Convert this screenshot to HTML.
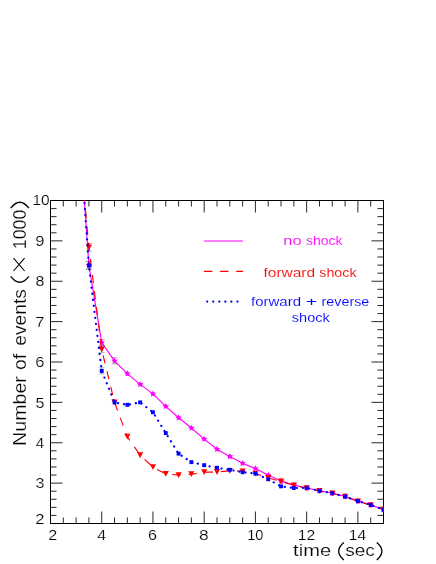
<!DOCTYPE html>
<html><head><meta charset="utf-8"><title>chart</title>
<style>
html,body{margin:0;padding:0;background:#fff;}
svg{display:block;will-change:transform;}
text{font-family:"Liberation Sans",sans-serif;}
</style></head><body>
<svg width="436" height="564" viewBox="0 0 436 564">
<rect x="0" y="0" width="436" height="564" fill="#fff"/>
<defs><clipPath id="c"><rect x="50.5" y="200.5" width="333.0" height="323.0"/></clipPath></defs>

<rect x="50.5" y="200.5" width="333.0" height="323.0" stroke="#000" stroke-width="1" fill="none"/>
<g stroke="#000" stroke-width="0.85" fill="none">
<path d="M63.31 200.50 v6.0 M63.31 523.50 v-6.0"/>
<path d="M76.12 200.50 v6.0 M76.12 523.50 v-6.0"/>
<path d="M88.92 200.50 v6.0 M88.92 523.50 v-6.0"/>
<path d="M101.73 200.50 v12.0 M101.73 523.50 v-12.0"/>
<path d="M114.54 200.50 v6.0 M114.54 523.50 v-6.0"/>
<path d="M127.35 200.50 v6.0 M127.35 523.50 v-6.0"/>
<path d="M140.15 200.50 v6.0 M140.15 523.50 v-6.0"/>
<path d="M152.96 200.50 v12.0 M152.96 523.50 v-12.0"/>
<path d="M165.77 200.50 v6.0 M165.77 523.50 v-6.0"/>
<path d="M178.58 200.50 v6.0 M178.58 523.50 v-6.0"/>
<path d="M191.38 200.50 v6.0 M191.38 523.50 v-6.0"/>
<path d="M204.19 200.50 v12.0 M204.19 523.50 v-12.0"/>
<path d="M217.00 200.50 v6.0 M217.00 523.50 v-6.0"/>
<path d="M229.81 200.50 v6.0 M229.81 523.50 v-6.0"/>
<path d="M242.62 200.50 v6.0 M242.62 523.50 v-6.0"/>
<path d="M255.42 200.50 v12.0 M255.42 523.50 v-12.0"/>
<path d="M268.23 200.50 v6.0 M268.23 523.50 v-6.0"/>
<path d="M281.04 200.50 v6.0 M281.04 523.50 v-6.0"/>
<path d="M293.85 200.50 v6.0 M293.85 523.50 v-6.0"/>
<path d="M306.65 200.50 v12.0 M306.65 523.50 v-12.0"/>
<path d="M319.46 200.50 v6.0 M319.46 523.50 v-6.0"/>
<path d="M332.27 200.50 v6.0 M332.27 523.50 v-6.0"/>
<path d="M345.08 200.50 v6.0 M345.08 523.50 v-6.0"/>
<path d="M357.88 200.50 v12.0 M357.88 523.50 v-12.0"/>
<path d="M370.69 200.50 v6.0 M370.69 523.50 v-6.0"/>
<path d="M50.50 515.42 h6.0 M383.50 515.42 h-6.0"/>
<path d="M50.50 507.35 h6.0 M383.50 507.35 h-6.0"/>
<path d="M50.50 499.27 h6.0 M383.50 499.27 h-6.0"/>
<path d="M50.50 491.20 h6.0 M383.50 491.20 h-6.0"/>
<path d="M50.50 483.12 h12.0 M383.50 483.12 h-12.0"/>
<path d="M50.50 475.05 h6.0 M383.50 475.05 h-6.0"/>
<path d="M50.50 466.97 h6.0 M383.50 466.97 h-6.0"/>
<path d="M50.50 458.90 h6.0 M383.50 458.90 h-6.0"/>
<path d="M50.50 450.82 h6.0 M383.50 450.82 h-6.0"/>
<path d="M50.50 442.75 h12.0 M383.50 442.75 h-12.0"/>
<path d="M50.50 434.67 h6.0 M383.50 434.67 h-6.0"/>
<path d="M50.50 426.60 h6.0 M383.50 426.60 h-6.0"/>
<path d="M50.50 418.52 h6.0 M383.50 418.52 h-6.0"/>
<path d="M50.50 410.45 h6.0 M383.50 410.45 h-6.0"/>
<path d="M50.50 402.37 h12.0 M383.50 402.37 h-12.0"/>
<path d="M50.50 394.30 h6.0 M383.50 394.30 h-6.0"/>
<path d="M50.50 386.22 h6.0 M383.50 386.22 h-6.0"/>
<path d="M50.50 378.15 h6.0 M383.50 378.15 h-6.0"/>
<path d="M50.50 370.07 h6.0 M383.50 370.07 h-6.0"/>
<path d="M50.50 362.00 h12.0 M383.50 362.00 h-12.0"/>
<path d="M50.50 353.92 h6.0 M383.50 353.92 h-6.0"/>
<path d="M50.50 345.85 h6.0 M383.50 345.85 h-6.0"/>
<path d="M50.50 337.77 h6.0 M383.50 337.77 h-6.0"/>
<path d="M50.50 329.70 h6.0 M383.50 329.70 h-6.0"/>
<path d="M50.50 321.62 h12.0 M383.50 321.62 h-12.0"/>
<path d="M50.50 313.55 h6.0 M383.50 313.55 h-6.0"/>
<path d="M50.50 305.47 h6.0 M383.50 305.47 h-6.0"/>
<path d="M50.50 297.40 h6.0 M383.50 297.40 h-6.0"/>
<path d="M50.50 289.32 h6.0 M383.50 289.32 h-6.0"/>
<path d="M50.50 281.25 h12.0 M383.50 281.25 h-12.0"/>
<path d="M50.50 273.17 h6.0 M383.50 273.17 h-6.0"/>
<path d="M50.50 265.10 h6.0 M383.50 265.10 h-6.0"/>
<path d="M50.50 257.02 h6.0 M383.50 257.02 h-6.0"/>
<path d="M50.50 248.95 h6.0 M383.50 248.95 h-6.0"/>
<path d="M50.50 240.87 h12.0 M383.50 240.87 h-12.0"/>
<path d="M50.50 232.80 h6.0 M383.50 232.80 h-6.0"/>
<path d="M50.50 224.72 h6.0 M383.50 224.72 h-6.0"/>
<path d="M50.50 216.65 h6.0 M383.50 216.65 h-6.0"/>
<path d="M50.50 208.58 h6.0 M383.50 208.58 h-6.0"/>
</g>
<text transform="translate(48.14,540.40) scale(1.081,1)" font-size="15" fill="#000" stroke="#fff" stroke-width="0.2">2</text>
<text transform="translate(97.15,540.40) scale(1.060,1)" font-size="15" fill="#000" stroke="#fff" stroke-width="0.2">4</text>
<text transform="translate(148.04,540.40) scale(1.081,1)" font-size="15" fill="#000" stroke="#fff" stroke-width="0.2">6</text>
<text transform="translate(199.06,540.40) scale(1.156,1)" font-size="15" fill="#000" stroke="#fff" stroke-width="0.2">8</text>
<text transform="translate(247.19,540.40) scale(0.969,1)" font-size="15" fill="#000" stroke="#fff" stroke-width="0.2">10</text>
<text transform="translate(297.82,540.40) scale(1.044,1)" font-size="15" fill="#000" stroke="#fff" stroke-width="0.2">12</text>
<text transform="translate(348.82,540.40) scale(1.041,1)" font-size="15" fill="#000" stroke="#fff" stroke-width="0.2">14</text>
<text transform="translate(35.32,524.30) scale(1.109,1)" font-size="15" fill="#000" stroke="#fff" stroke-width="0.2">2</text>
<text transform="translate(35.60,488.32) scale(1.074,1)" font-size="15" fill="#000" stroke="#fff" stroke-width="0.2">3</text>
<text transform="translate(35.86,447.95) scale(1.008,1)" font-size="15" fill="#000" stroke="#fff" stroke-width="0.2">4</text>
<text transform="translate(35.60,407.57) scale(1.074,1)" font-size="15" fill="#000" stroke="#fff" stroke-width="0.2">5</text>
<text transform="translate(35.32,367.20) scale(1.109,1)" font-size="15" fill="#000" stroke="#fff" stroke-width="0.2">6</text>
<text transform="translate(35.32,326.82) scale(1.109,1)" font-size="15" fill="#000" stroke="#fff" stroke-width="0.2">7</text>
<text transform="translate(35.60,286.45) scale(1.074,1)" font-size="15" fill="#000" stroke="#fff" stroke-width="0.2">8</text>
<text transform="translate(35.32,246.07) scale(1.109,1)" font-size="15" fill="#000" stroke="#fff" stroke-width="0.2">9</text>
<text transform="translate(32.43,204.90) scale(1.034,1)" font-size="15" fill="#000" stroke="#fff" stroke-width="0.2">10</text>
<text transform="translate(293.10,555.70) scale(1.166,1)" font-size="17.3" fill="#000" stroke="#fff" stroke-width="0.2">time</text>
<path d="M343.8 542.5 Q333.6 551.2 343.8 559.9 M376.8 542.5 Q387 551.2 376.8 559.9" stroke="#000" stroke-width="1.3" fill="none"/>
<text transform="translate(345.20,555.70) scale(1.103,1)" font-size="17.3" fill="#000" stroke="#fff" stroke-width="0.2">sec</text>
<text transform="translate(26,0) rotate(-90) translate(-445.94,0.00) scale(1.117,1)" font-size="17.6" fill="#000" stroke="#fff" stroke-width="0.2">Number</text>
<text transform="translate(26,0) rotate(-90) translate(-369.90,0.00) scale(1.099,1)" font-size="17.6" fill="#000" stroke="#fff" stroke-width="0.2">of</text>
<text transform="translate(26,0) rotate(-90) translate(-345.70,0.00) scale(1.092,1)" font-size="17.6" fill="#000" stroke="#fff" stroke-width="0.2">events</text>
<path transform="translate(26,0) rotate(-90)" d="M-276.3 -15.3 Q-288.2 -6.2 -276.3 2.9 M-208.2 -15.3 Q-196.3 -6.2 -208.2 2.9" stroke="#000" stroke-width="1.3" fill="none"/>
<path transform="translate(26,0) rotate(-90)" d="M-271.0 -1.4 L-258.1 -12.5 M-271.0 -12.5 L-258.1 -1.4" stroke="#000" stroke-width="1.1" fill="none"/>
<text transform="translate(26,0) rotate(-90) translate(-249.21,0.00) scale(0.990,1)" font-size="18" fill="#000" stroke="#fff" stroke-width="0.2">1000</text>
<g clip-path="url(#c)">
<path d="M76.1 83.4 L88.9 265.1 L101.7 342.6 L114.5 360.8 L127.3 373.7 L140.2 384.4 L153.0 393.9 L165.8 406.4 L178.6 417.7 L191.4 428.0 L204.2 439.1 L217.0 449.2 L229.8 456.5 L242.6 463.3 L255.4 468.6 L268.2 475.1 L281.0 480.9 L293.8 485.1 L306.7 488.0 L319.5 490.8 L332.3 493.2 L345.1 496.4 L357.9 501.1 L370.7 504.9 L383.5 509.7" fill="none" stroke="#f0f" stroke-width="1.15"/>
<path d="M88.92 261.40 V268.80 M85.92 261.40 h6 M85.92 268.80 h6 M101.73 339.37 V345.87 M98.73 339.37 h6 M98.73 345.87 h6 M114.54 357.65 V363.92 M111.54 357.65 h6 M111.54 363.92 h6" stroke="#000" stroke-width="0.3" fill="none"/>
<g fill="#f0f"><polygon points="88.92,261.70 89.92,263.72 92.16,264.05 90.54,265.63 90.92,267.85 88.92,266.80 86.92,267.85 87.31,265.63 85.69,264.05 87.92,263.72"/><polygon points="101.73,339.22 102.73,341.24 104.96,341.57 103.35,343.15 103.73,345.37 101.73,344.32 99.73,345.37 100.11,343.15 98.50,341.57 100.73,341.24"/><polygon points="114.54,357.39 115.54,359.41 117.77,359.74 116.16,361.31 116.54,363.54 114.54,362.49 112.54,363.54 112.92,361.31 111.30,359.74 113.54,359.41"/><polygon points="127.35,370.31 128.35,372.33 130.58,372.66 128.96,374.23 129.34,376.46 127.35,375.41 125.35,376.46 125.73,374.23 124.11,372.66 126.35,372.33"/><polygon points="140.15,381.01 141.15,383.03 143.39,383.36 141.77,384.93 142.15,387.16 140.15,386.11 138.16,387.16 138.54,384.93 136.92,383.36 139.15,383.03"/><polygon points="152.96,390.50 153.96,392.52 156.20,392.85 154.58,394.42 154.96,396.65 152.96,395.60 150.96,396.65 151.34,394.42 149.73,392.85 151.96,392.52"/><polygon points="165.77,403.01 166.77,405.04 169.00,405.36 167.39,406.94 167.77,409.16 165.77,408.11 163.77,409.16 164.15,406.94 162.54,405.36 164.77,405.04"/><polygon points="178.58,414.32 179.58,416.34 181.81,416.67 180.19,418.24 180.58,420.47 178.58,419.42 176.58,420.47 176.96,418.24 175.34,416.67 177.58,416.34"/><polygon points="191.38,424.61 192.38,426.64 194.62,426.96 193.00,428.54 193.38,430.76 191.38,429.71 189.39,430.76 189.77,428.54 188.15,426.96 190.39,426.64"/><polygon points="204.19,435.72 205.19,437.74 207.43,438.07 205.81,439.64 206.19,441.87 204.19,440.82 202.19,441.87 202.58,439.64 200.96,438.07 203.19,437.74"/><polygon points="217.00,445.81 218.00,447.83 220.23,448.16 218.62,449.74 219.00,451.96 217.00,450.91 215.00,451.96 215.38,449.74 213.77,448.16 216.00,447.83"/><polygon points="229.81,453.08 230.81,455.10 233.04,455.43 231.42,457.00 231.81,459.23 229.81,458.18 227.81,459.23 228.19,457.00 226.57,455.43 228.81,455.10"/><polygon points="242.62,459.94 243.61,461.97 245.85,462.29 244.23,463.87 244.61,466.09 242.62,465.04 240.62,466.09 241.00,463.87 239.38,462.29 241.62,461.97"/><polygon points="255.42,465.19 256.42,467.21 258.66,467.54 257.04,469.12 257.42,471.34 255.42,470.29 253.42,471.34 253.81,469.12 252.19,467.54 254.42,467.21"/><polygon points="268.23,471.65 269.23,473.67 271.46,474.00 269.85,475.58 270.23,477.80 268.23,476.75 266.23,477.80 266.61,475.58 265.00,474.00 267.23,473.67"/><polygon points="281.04,477.54 282.04,479.57 284.27,479.89 282.66,481.47 283.04,483.70 281.04,482.64 279.04,483.70 279.42,481.47 277.80,479.89 280.04,479.57"/><polygon points="293.85,481.74 294.85,483.77 297.08,484.09 295.46,485.67 295.84,487.89 293.85,486.84 291.85,487.89 292.23,485.67 290.61,484.09 292.85,483.77"/><polygon points="306.65,484.57 307.65,486.59 309.89,486.92 308.27,488.50 308.65,490.72 306.65,489.67 304.66,490.72 305.04,488.50 303.42,486.92 305.65,486.59"/><polygon points="319.46,487.40 320.46,489.42 322.70,489.75 321.08,491.32 321.46,493.55 319.46,492.50 317.46,493.55 317.84,491.32 316.23,489.75 318.46,489.42"/><polygon points="332.27,489.82 333.27,491.84 335.50,492.17 333.89,493.74 334.27,495.97 332.27,494.92 330.27,495.97 330.65,493.74 329.04,492.17 331.27,491.84"/><polygon points="345.08,493.05 346.08,495.07 348.31,495.40 346.69,496.97 347.08,499.20 345.08,498.15 343.08,499.20 343.46,496.97 341.84,495.40 344.08,495.07"/><polygon points="357.88,497.69 358.88,499.72 361.12,500.04 359.50,501.62 359.88,503.84 357.88,502.79 355.89,503.84 356.27,501.62 354.65,500.04 356.89,499.72"/><polygon points="370.69,501.53 371.69,503.55 373.93,503.88 372.31,505.45 372.69,507.68 370.69,506.63 368.69,507.68 369.08,505.45 367.46,503.88 369.69,503.55"/><polygon points="383.50,506.25 384.50,508.28 386.73,508.60 385.12,510.18 385.50,512.40 383.50,511.35 381.50,512.40 381.88,510.18 380.27,508.60 382.50,508.28"/></g>
<path d="M76.1 107.6 L88.9 247.3 L101.7 349.5 L114.5 402.4 L127.3 436.7 L140.2 455.3 L153.0 467.2 L165.8 473.9 L178.6 475.1 L191.4 474.2 L204.2 472.2 L217.0 472.0 L229.8 470.8 L242.6 471.4 L255.4 473.6 L268.2 477.9 L281.0 481.5 L293.8 485.3 L306.7 488.2 L319.5 491.0 L332.3 493.4 L345.1 496.7 L357.9 501.3 L370.7 505.1 L383.5 509.7" fill="none" stroke="#f00" stroke-width="1.15" stroke-dasharray="8.3 7.94" stroke-dashoffset="10.57"/>
<path d="M88.92 243.54 V251.13 M85.92 243.54 h6 M85.92 251.13 h6 M101.73 346.28 V352.69 M98.73 346.28 h6 M98.73 352.69 h6" stroke="#000" stroke-width="0.3" fill="none"/>
<g fill="#f00"><polygon points="85.82,244.44 92.02,244.44 88.92,250.24"/><polygon points="98.63,346.58 104.83,346.58 101.73,352.38"/><polygon points="111.44,399.48 117.64,399.48 114.54,405.27"/><polygon points="124.25,433.79 130.45,433.79 127.35,439.59"/><polygon points="137.05,452.37 143.25,452.37 140.15,458.17"/><polygon points="149.86,464.28 156.06,464.28 152.96,470.08"/><polygon points="162.67,471.02 168.87,471.02 165.77,476.82"/><polygon points="175.48,472.15 181.68,472.15 178.58,477.95"/><polygon points="188.28,471.26 194.48,471.26 191.38,477.06"/><polygon points="201.09,469.32 207.29,469.32 204.19,475.12"/><polygon points="213.90,469.12 220.10,469.12 217.00,474.92"/><polygon points="226.71,467.91 232.91,467.91 229.81,473.71"/><polygon points="239.52,468.52 245.72,468.52 242.62,474.32"/><polygon points="252.32,470.74 258.52,470.74 255.42,476.54"/><polygon points="265.13,474.98 271.33,474.98 268.23,480.78"/><polygon points="277.94,478.61 284.14,478.61 281.04,484.41"/><polygon points="290.75,482.45 296.95,482.45 293.85,488.25"/><polygon points="303.55,485.27 309.75,485.27 306.65,491.07"/><polygon points="316.36,488.10 322.56,488.10 319.46,493.90"/><polygon points="329.17,490.52 335.37,490.52 332.27,496.32"/><polygon points="341.98,493.75 348.18,493.75 345.08,499.55"/><polygon points="354.78,498.39 360.98,498.39 357.88,504.19"/><polygon points="367.59,502.23 373.79,502.23 370.69,508.03"/><polygon points="380.40,506.75 386.60,506.75 383.50,512.55"/></g>
<path d="M76.1 83.4 L88.9 265.5 L101.7 370.9 L114.5 402.4 L127.3 404.8 L140.2 402.4 L153.0 412.3 L165.8 433.1 L178.6 453.7 L191.4 462.1 L204.2 465.2 L217.0 467.8 L229.8 469.8 L242.6 472.2 L255.4 473.6 L268.2 479.3 L281.0 486.4 L293.8 488.0 L306.7 488.0 L319.5 490.8 L332.3 493.2 L345.1 496.7 L357.9 501.1 L370.7 504.9 L383.5 509.7" fill="none" stroke="#00f" stroke-width="2.2" stroke-dasharray="0.1 5.97" stroke-dashoffset="1.52" stroke-linecap="round"/>
<path d="M88.92 261.81 V269.20 M85.92 261.81 h6 M85.92 269.20 h6 M101.73 367.81 V373.95 M98.73 367.81 h6 M98.73 373.95 h6" stroke="#000" stroke-width="0.3" fill="none"/>
<g fill="#00f"><rect x="86.97" y="263.55" width="3.90" height="3.90"/><rect x="99.78" y="368.93" width="3.90" height="3.90"/><rect x="112.59" y="400.43" width="3.90" height="3.90"/><rect x="125.40" y="402.85" width="3.90" height="3.90"/><rect x="138.20" y="400.43" width="3.90" height="3.90"/><rect x="151.01" y="410.32" width="3.90" height="3.90"/><rect x="163.82" y="431.11" width="3.90" height="3.90"/><rect x="176.63" y="451.70" width="3.90" height="3.90"/><rect x="189.43" y="460.18" width="3.90" height="3.90"/><rect x="202.24" y="463.21" width="3.90" height="3.90"/><rect x="215.05" y="465.83" width="3.90" height="3.90"/><rect x="227.86" y="467.85" width="3.90" height="3.90"/><rect x="240.67" y="470.27" width="3.90" height="3.90"/><rect x="253.47" y="471.69" width="3.90" height="3.90"/><rect x="266.28" y="477.34" width="3.90" height="3.90"/><rect x="279.09" y="484.41" width="3.90" height="3.90"/><rect x="291.90" y="486.02" width="3.90" height="3.90"/><rect x="304.70" y="486.02" width="3.90" height="3.90"/><rect x="317.51" y="488.85" width="3.90" height="3.90"/><rect x="330.32" y="491.27" width="3.90" height="3.90"/><rect x="343.13" y="494.70" width="3.90" height="3.90"/><rect x="355.93" y="499.14" width="3.90" height="3.90"/><rect x="368.74" y="502.98" width="3.90" height="3.90"/><rect x="381.55" y="507.70" width="3.90" height="3.90"/></g>
</g>
<path d="M204 241 H242.9" stroke="#f0f" stroke-width="1.15"/>
<path d="M204 271.3 H243" stroke="#f00" stroke-width="1.15" stroke-dasharray="8.4 7.7"/>
<path d="M207.15 301.6 H238" stroke="#00f" stroke-width="2.2" stroke-dasharray="0.1 5.95" stroke-linecap="round"/>
<text transform="translate(283.37,245.20) scale(1.218,1)" font-size="13.5" fill="#f0f" stroke="#fff" stroke-width="0.1">no</text>
<text transform="translate(305.88,245.20) scale(1.041,1)" font-size="13.5" fill="#f0f" stroke="#fff" stroke-width="0.1">shock</text>
<text transform="translate(263.50,277.20) scale(1.146,1)" font-size="13.5" fill="#f00" stroke="#fff" stroke-width="0.1">forward</text>
<text transform="translate(319.28,277.20) scale(1.058,1)" font-size="13.5" fill="#f00" stroke="#fff" stroke-width="0.1">shock</text>
<text transform="translate(251.00,305.90) scale(1.112,1)" font-size="13.5" fill="#00f" stroke="#fff" stroke-width="0.1">forward</text>
<text transform="translate(305.77,305.90) scale(1.467,1)" font-size="13.5" fill="#00f" stroke="#fff" stroke-width="0.1">+</text>
<text transform="translate(321.61,305.90) scale(1.059,1)" font-size="13.5" fill="#00f" stroke="#fff" stroke-width="0.1">reverse</text>
<text transform="translate(291.87,321.70) scale(1.075,1)" font-size="13.5" fill="#00f" stroke="#fff" stroke-width="0.1">shock</text>
</svg></body></html>
